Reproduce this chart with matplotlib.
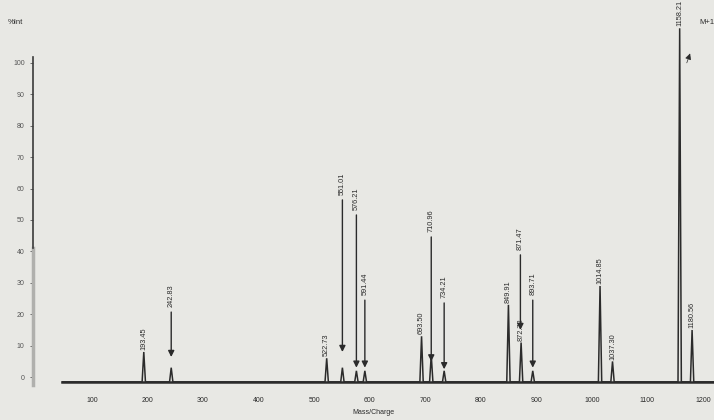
import numpy as np
import matplotlib.pyplot as plt

# peak list: m/z and relative intensity (%)
peak_mz = [193.45, 242.83, 522.73, 551.01, 576.21, 591.44, 693.50, 710.96,
           734.21, 849.91, 872.72, 893.71, 1014.85, 1037.30, 1158.21, 1180.56]
peak_int = [8, 3, 6, 3, 2, 2, 13, 7, 2, 23, 11, 2, 29, 5, 111, 15]

# peaks labelled directly above the apex
tag_mz = [193.45, 522.73, 693.50, 849.91, 872.72, 1014.85, 1037.30, 1158.21, 1180.56]
tag_txt = ['193.45', '522.73', '693.50', '849.91', '872.72', '1014.85', '1037.30',
           '1158.21', '1180.56']

# peaks marked with a labelled arrow: m/z, arrow start and tip (%)
arrow_mz = [242.83, 551.01, 576.21, 591.44, 710.96, 734.21, 871.47, 893.71]
arrow_top = [20.7, 56.4, 51.6, 24.5, 44.6, 23.6, 38.9, 24.5]
arrow_tip = [6.4, 8.0, 3.0, 3.0, 5.0, 2.5, 15.0, 3.0]

xticks = [100, 200, 300, 400, 500, 600, 700, 800, 900, 1000, 1100, 1200]
yticks = [0, 10, 20, 30, 40, 50, 60, 70, 80, 90, 100]

bg = '#e8e8e4'
ink = '#2b2b2b'
base = -1.5
half_w = 3.0

fig = plt.figure(figsize=(7.14, 4.2), dpi=100, facecolor=bg)
ax = fig.add_axes([33/714, 30/420, 1 - 33/714, 390/420])
ax.set_facecolor(bg)
ax.set_xlim(-6, 1220)
ax.set_ylim(-4.1, 120)

# build the trace from triangular peaks on a flat baseline
xs = [47]
ys = [base]
for m, h in sorted(zip(peak_mz, peak_int)):
    xs += [m - half_w, m, m + half_w]
    ys += [base, h, base]
xs.append(1226)
ys.append(base)
ax.plot([47, 1226], [base, base], color=ink, lw=1.8)
ax.plot(xs, ys, color=ink, lw=1.1, solid_joinstyle='miter')

for m, t in zip(tag_mz, tag_txt):
    h = peak_int[peak_mz.index(m)]
    ax.text(m, h + 0.6, t, rotation=90, ha='center', va='bottom',
            fontsize=5.3, color=ink, family='Liberation Sans')

for m, top, tip in zip(arrow_mz, arrow_top, arrow_tip):
    ax.annotate('', xy=(m, tip), xytext=(m, top),
                arrowprops=dict(arrowstyle='-|>', color=ink, lw=1.0,
                                mutation_scale=9, shrinkA=0, shrinkB=0))
    ax.text(m, top + 1.6, '%.2f' % m, rotation=90, ha='center', va='bottom',
            fontsize=5.3, color=ink, family='Liberation Sans')

# molecular ion marker
ax.annotate('', xy=(1177, 103), xytext=(1171, 100),
            arrowprops=dict(arrowstyle='-|>', color=ink, lw=0.5,
                            mutation_scale=9, shrinkA=0, shrinkB=0))
fig.text(699/714, 1 - 22/420, 'M+1', fontsize=5.5, color=ink,
         va='center', ha='left', family='Liberation Sans')

# y axis: solid upper part, faded lower part
for s in ['top', 'right', 'bottom']:
    ax.spines[s].set_visible(False)
ax.spines['left'].set_bounds(41, 102)
ax.spines['left'].set_color('#3a3a3a')
ax.spines['left'].set_linewidth(1.2)
ax.plot([-6, -6], [-2.5, 41], color='#b0b0ad', lw=2.5, clip_on=False)

ax.set_yticks(yticks)
ax.set_yticklabels([str(v) for v in yticks], fontsize=5, color=ink,
                   family='Liberation Sans')
ax.tick_params(axis='y', length=2, width=0.6, pad=4, colors='#555555')
ax.set_xticks(xticks)
ax.set_xticklabels([str(v) for v in xticks], fontsize=5, color=ink,
                   family='Liberation Sans')
ax.tick_params(axis='x', length=0, pad=5)
ax.set_xlabel('Mass/Charge', fontsize=5, color=ink, labelpad=4,
              family='Liberation Sans')

fig.text(15/714, 1 - 22/420, '%Int', fontsize=5.5, color=ink,
         va='center', ha='center', family='Liberation Sans')

fig.savefig('out.png', dpi=100, facecolor=bg)
